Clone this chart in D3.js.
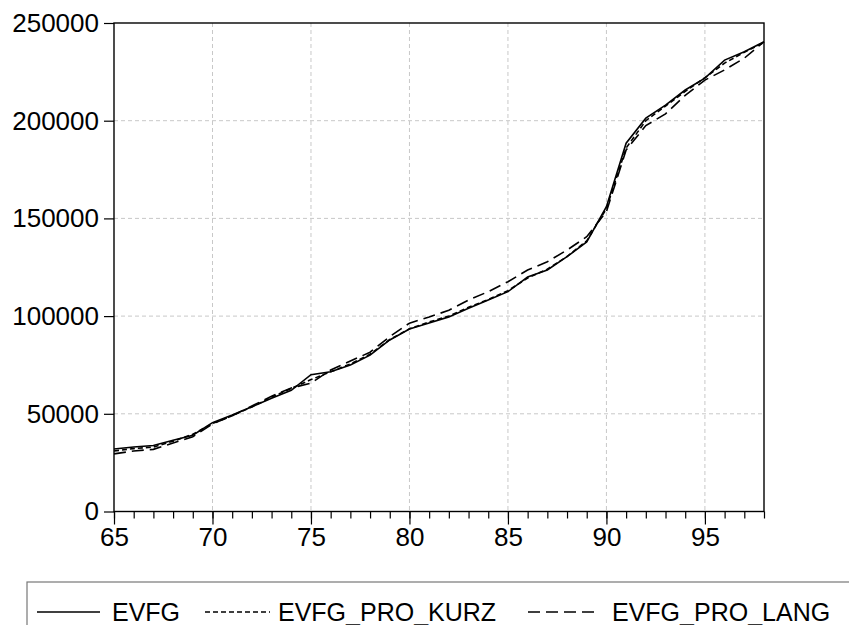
<!DOCTYPE html>
<html>
<head>
<meta charset="utf-8">
<script src="https://cdn.jsdelivr.net/npm/d3@7"></script>
<style>
  html, body { margin: 0; padding: 0; background: #fff; }
  svg { display: block; }
  text { font-family: "Liberation Sans", Arial, sans-serif; }
</style>
</head>
<body>
<svg id="chart" width="849" height="625"></svg>
<script>
// ---- data ----
const years = [65,66,67,68,69,70,71,72,73,74,75,76,77,78,79,80,81,82,83,84,85,86,87,88,89,90,91,92,93,94,95,96,97,98];
const evfg = [32000,33000,33800,36500,39000,45500,49400,53600,58000,62000,70000,71500,75000,80000,87800,93400,96500,99600,104000,108200,112500,120000,123600,130400,138000,156000,188500,201300,208000,215700,221800,231000,235300,240400];
const evfgProKurz = [31000,32200,33000,36000,39500,45000,49000,53500,58500,63000,67500,71500,75500,80500,88000,93500,97000,100000,104500,108500,113000,119500,124000,130500,138500,155000,186000,200000,207500,215000,222000,229500,235000,240000];
const evfgProLang = [29500,31000,31800,35000,38300,44800,49000,54000,59000,63200,65700,72400,77000,81500,89500,96400,99500,103000,108200,112500,117600,123600,127800,133800,140600,153500,185000,197500,203500,213000,220800,226000,232000,240400];
const xTickLabels = [65,70,75,80,85,90,95];
const yTicks = [0,50000,100000,150000,200000,250000];
const seriesNames = ["EVFG","EVFG_PRO_KURZ","EVFG_PRO_LANG"];

// ---- layout ----
const svg = d3.select("#chart");
const m = {left: 114, top: 23, right: 764, bottom: 511.5};
const x = d3.scaleLinear().domain([65, 98]).range([m.left, m.right]);
const y = d3.scaleLinear().domain([0, 250000]).range([m.bottom, m.top]);

svg.append("rect").attr("width", 849).attr("height", 625).attr("fill", "#fff");

// grid
const grid = svg.append("g").attr("stroke", "#c8c8c8").attr("stroke-width", 1).attr("stroke-dasharray", "4,3");
xTickLabels.filter(d => d > 65).forEach(d => {
  grid.append("line").attr("x1", x(d)).attr("x2", x(d)).attr("y1", m.top).attr("y2", m.bottom);
});
yTicks.filter(d => d > 0 && d < 250000).forEach(d => {
  grid.append("line").attr("x1", m.left).attr("x2", m.right).attr("y1", y(d)).attr("y2", y(d));
});

// lines
const styles = [
  {data: evfg, dash: null},
  {data: evfgProKurz, dash: "5,3"},
  {data: evfgProLang, dash: "12,6"}
];
const line = d3.line().x((d, i) => x(years[i])).y(d => y(d));
styles.forEach(s => {
  svg.append("path").datum(s.data).attr("d", line)
    .attr("fill", "none").attr("stroke", "#000").attr("stroke-width", 1.6)
    .attr("stroke-dasharray", s.dash);
});

// frame
svg.append("rect").attr("x", m.left).attr("y", m.top)
  .attr("width", m.right - m.left).attr("height", m.bottom - m.top)
  .attr("fill", "none").attr("stroke", "#000").attr("stroke-width", 1.4);

// y axis
const yAxis = d3.axisLeft(y).tickValues(yTicks).tickSize(10).tickPadding(5).tickFormat(d3.format("d"));
const gy = svg.append("g").attr("transform", `translate(${m.left},0)`).call(yAxis);
gy.select(".domain").remove();
gy.selectAll("text").attr("font-size", 26).attr("font-family", "Liberation Sans, Arial, sans-serif").attr("fill", "#000");
gy.selectAll("line").attr("stroke", "#000").attr("stroke-width", 1.2);

// x axis minor
const xMinor = d3.axisBottom(x).tickValues(years).tickSize(7).tickFormat("");
const gxm = svg.append("g").attr("transform", `translate(0,${m.bottom})`).call(xMinor);
gxm.select(".domain").remove();
gxm.selectAll("line").attr("stroke", "#000").attr("stroke-width", 1.2);
// x axis major
const xMajor = d3.axisBottom(x).tickValues(xTickLabels).tickSize(13).tickPadding(3).tickFormat(d => d);
const gx = svg.append("g").attr("transform", `translate(0,${m.bottom})`).call(xMajor);
gx.select(".domain").remove();
gx.selectAll("line").attr("stroke", "#000").attr("stroke-width", 1.2);
gx.selectAll("text").attr("font-size", 26).attr("font-family", "Liberation Sans, Arial, sans-serif").attr("fill", "#000");

// legend
const lg = svg.append("g");
lg.append("rect").attr("x", 27).attr("y", 582).attr("width", 900).attr("height", 80)
  .attr("fill", "none").attr("stroke", "#777").attr("stroke-width", 1.2);
const legendItems = [
  {x1: 37, x2: 100, tx: 112, dash: null},
  {x1: 205, x2: 270, tx: 278, dash: "5,3"},
  {x1: 528, x2: 600, tx: 612, dash: "12,6"}
];
const ly = 612;
legendItems.forEach((it, i) => {
  lg.append("line").attr("x1", it.x1).attr("x2", it.x2).attr("y1", ly).attr("y2", ly)
    .attr("stroke", "#000").attr("stroke-width", 1.6).attr("stroke-dasharray", it.dash);
  lg.append("text").attr("x", it.tx).attr("y", ly).attr("dy", "0.36em")
    .attr("font-size", 25).attr("fill", "#000").text(seriesNames[i]);
});
</script>
</body>
</html>
